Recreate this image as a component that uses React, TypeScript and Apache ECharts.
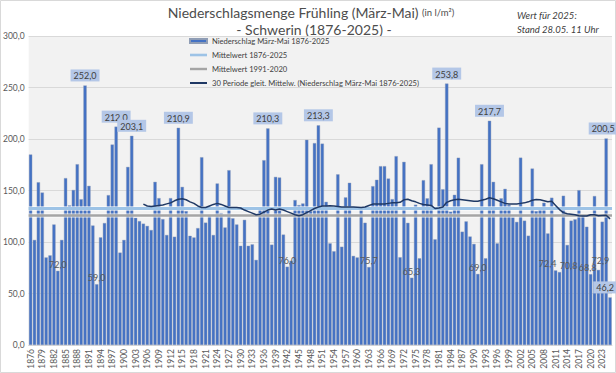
import React, { useEffect, useRef } from "react";
import * as echarts from "echarts";

// ---- data ----
const firstYear = 1876;
const years: string[] = Array.from({ length: 150 }, (_, i) => String(firstYear + i));

const precip: number[] = [
  185, 102, 158, 148,
  85, 87, 117, 72.0, 102, 162, 135.5, 150.5, 175.5, 141.5,
  252.0, 154.5, 116, 59.0, 104.5, 118.4, 145.5, 194.6, 212.0, 89.7,
  102, 172.9, 203.1, 123.5, 120.3, 117.8, 115.6, 111.6, 158.4, 142.6,
  122.2, 106.8, 142.6, 105.1, 210.9, 153.5, 130, 106, 104.4, 113.5,
  182.3, 118.8, 126, 106.8, 156.8, 128, 114.1, 169.7, 123, 117,
  96.3, 121.5, 96.3, 97.7, 82.6, 131.6, 179.4, 210.3, 97.4, 163.2,
  162.6, 107.2, 76.0, 81.8, 140.7, 135.8, 137.4, 199.2, 130, 196,
  213.3, 195.5, 139, 98.7, 91, 165.7, 95.4, 143.3, 157.5, 86.5,
  85, 131, 118.7, 75.7, 154.2, 160.4, 173.6, 173.6, 161.6, 141.6,
  183.3, 85.2, 177.8, 118.6, 65.3, 136.2, 84.2, 160, 142.4, 175.5,
  102.6, 211, 151.2, 253.8, 129.4, 145.8, 181.8, 110, 120, 105.3,
  98.1, 69.0, 175.5, 84.2, 217.7, 158.4, 98.7, 142.4, 151.6, 136,
  124, 119.5, 181.9, 120.7, 106.1, 171.3, 130, 133, 138.1, 108.3,
  143, 72.4, 70.8, 144.9, 97.1, 120.7, 122, 150.3, 126, 114.8,
  68.8, 144.6, 72.9, 119.7, 200.5, 46.2,
];

// 30-year moving average (1905-2025)
const maStartYear = 1905;
const movingAvg: number[] = [
  136.8, 135, 134.5, 135, 135.5,
  136, 137, 138, 140, 141.5, 142, 141, 139, 137.5, 135,
  133.5, 133.5, 135, 136.5, 137.5, 136.5, 135, 133.5, 133.5, 133.5,
  133, 131, 129.5, 128, 126.5, 127, 129, 131, 132, 131,
  132, 131, 129.5, 128, 126.5, 125.5, 126.5, 128.5, 130.5, 132.5,
  134, 135, 135, 135.2, 135, 134.5, 134, 134, 134, 134,
  133.8, 133.6, 134, 135.5, 136.8, 137, 137, 137, 137.5, 138,
  138, 138.5, 141, 141.5, 140, 139, 137.5, 136.5, 136, 135.5,
  132.5, 133, 134, 138.5, 140, 141, 141.5, 141, 140.5, 140,
  139.5, 139.5, 140.5, 141.5, 143, 142, 140.5, 139, 137.5, 137,
  136.8, 137, 137.5, 138, 139, 140.5, 141.3, 141, 140, 139,
  139.5, 135.5, 131.5, 128.5, 127.5, 127, 126.5, 125.5, 125.2, 125.2,
  126.5, 126.5, 125.5, 125.8, 126, 122.5,
];

const mean1876_2025 = 132.5;
const mean1991_2020 = 126;

const highLabelYears = [1890, 1898, 1902, 1914, 1937, 1950, 1983, 1994, 2024, 2025];
const lowLabelYears = [1883, 1893, 1942, 1963, 1974, 1991, 2011, 2012, 2020, 2022];

const nameBar = "Niederschlag März-Mai 1876-2025";
const nameMean1 = "Mittelwert 1876-2025";
const nameMean2 = "Mittelwert 1991-2020";
const nameMA = "30 Periode gleit. Mittelw. (Niederschlag März-Mai 1876-2025)";

// ---- styles ----
const FONT = "Lato, 'Liberation Sans', sans-serif";
const labelOffsets: Record<number, number[]> = {
  2011: [-8, 0],
  2012: [9, 0],
  2020: [-3, 0],
  2022: [2, -3],
  2024: [-3, 0],
  2025: [-5, 0],
};
const fmt = (v: number) => v.toFixed(1).replace(".", ",");

export default function App() {
  const ref = useRef<HTMLDivElement>(null);

  useEffect(() => {
    document.body.style.margin = "0";
    if (!ref.current) return;
    const chart = echarts.init(ref.current, undefined, { renderer: "svg" });

    const barData = precip.map((v, i) => {
      const y = firstYear + i;
      if (highLabelYears.includes(y)) {
        return {
          value: v,
          label: {
            show: true,
            position: "top",
            distance: 4,
            backgroundColor: "#b4c7e7",
            padding: [2, 3, 1, 3],
            color: "#404040",
            fontSize: 9,
            fontFamily: FONT,
            formatter: (p: any) => fmt(p.value),
            offset: labelOffsets[y] || [0, 0],
          },
        };
      }
      if (lowLabelYears.includes(y)) {
        return {
          value: v,
          label: {
            show: true,
            position: "top",
            distance: 2,
            color: "#595959",
            fontSize: 9,
            fontFamily: FONT,
            formatter: (p: any) => fmt(p.value),
            offset: labelOffsets[y] || [0, 0],
          },
        };
      }
      return v;
    });

    const maData = years.map((yy) => {
      const idx = Number(yy) - maStartYear;
      return idx >= 0 && idx < movingAvg.length ? movingAvg[idx] : null;
    });

    const option: any = {
      animation: false,
      backgroundColor: "#ffffff",
      textStyle: { fontFamily: FONT },
      grid: {
        left: 25,
        right: 4,
        top: 36,
        bottom: 28,
        show: true,
        backgroundColor: "#f2f2f2",
        borderWidth: 0,
      },
      legend: {
        orient: "vertical",
        left: 189,
        top: 37,
        padding: 0,
        itemGap: 6,
        itemWidth: 17,
        itemHeight: 7,
        selectedMode: false,
        textStyle: { fontSize: 7.6, color: "#404040", fontFamily: FONT, lineHeight: 7 },
        data: [
          { name: nameBar, icon: "path://M0,0H17V4H0Z" },
          { name: nameMean1, icon: "path://M0,0H17V2.6H0Z" },
          { name: nameMean2, icon: "path://M0,0H17V2.4H0Z" },
          { name: nameMA, icon: "path://M0,0H17V2H0Z" },
        ],
      },
      xAxis: {
        type: "category",
        data: years,
        axisTick: { show: false },
        axisLine: { lineStyle: { color: "#d9d9d9" } },
        axisLabel: {
          interval: 2,
          rotate: 90,
          fontSize: 8.5,
          color: "#595959",
          margin: 4,
          fontFamily: FONT,
        },
      },
      yAxis: {
        type: "value",
        min: 0,
        max: 300,
        interval: 50,
        axisLine: { show: false },
        axisTick: { show: false },
        axisLabel: {
          fontSize: 8.5,
          color: "#595959",
          margin: 4,
          fontFamily: FONT,
          formatter: (v: number) => fmt(v),
        },
        splitLine: { lineStyle: { color: "#d9d9d9", width: 1 } },
      },
      series: [
        {
          name: nameBar,
          type: "bar",
          data: barData,
          barCategoryGap: "16%",
          itemStyle: { color: "#4472c4", borderColor: "#8f9db5", borderWidth: 0.4 },
          z: 2,
          markLine: {
            silent: true,
            symbol: "none",
            label: { show: false },
            z: 3,
            data: [
              { yAxis: mean1876_2025, lineStyle: { color: "#ffffff", width: 5, type: "solid", opacity: 0.55 } },
              { yAxis: mean1876_2025, lineStyle: { color: "#9dc3e6", width: 3, type: "solid" } },
              { yAxis: mean1991_2020, lineStyle: { color: "#ffffff", width: 4.5, type: "solid", opacity: 0.55 } },
              { yAxis: mean1991_2020, lineStyle: { color: "#a5a5a5", width: 2.6, type: "solid" } },
            ],
          },
        },
        {
          name: nameMean1,
          type: "line",
          data: [],
          symbol: "none",
          itemStyle: { color: "#9dc3e6" },
          lineStyle: { color: "#9dc3e6", width: 2.5 },
        },
        {
          name: nameMean2,
          type: "line",
          data: [],
          symbol: "none",
          itemStyle: { color: "#a5a5a5" },
          lineStyle: { color: "#a5a5a5", width: 2.5 },
        },
        {
          name: nameMA,
          type: "line",
          data: maData,
          symbol: "none",
          z: 5,
          itemStyle: { color: "#1f3864" },
          lineStyle: { color: "#1f3864", width: 1.5 },
        },
      ],
      graphic: [
        {
          type: "text",
          x: 311,
          y: 12,
          style: {
            text: "{a|Niederschlagsmenge Frühling (März-Mai)} {b|(in l/m²)}",
            align: "center",
            verticalAlign: "middle",
            rich: {
              a: { fontSize: 14, fill: "#4d4d4d", fontFamily: FONT },
              b: { fontSize: 9.5, fill: "#4d4d4d", fontFamily: FONT },
            },
          },
        },
        {
          type: "text",
          x: 314,
          y: 29,
          style: {
            text: "- Schwerin (1876-2025) -",
            align: "center",
            verticalAlign: "middle",
            fontSize: 14,
            fill: "#4d4d4d",
            fontFamily: FONT,
          },
        },
        {
          type: "text",
          x: 517,
          y: 15,
          style: {
            text: "Wert für 2025:",
            verticalAlign: "middle",
            fontSize: 9.5,
            fontStyle: "italic",
            fill: "#404040",
            fontFamily: FONT,
          },
        },
        {
          type: "text",
          x: 517,
          y: 29,
          style: {
            text: "Stand 28.05. 11 Uhr",
            verticalAlign: "middle",
            fontSize: 9.5,
            fontStyle: "italic",
            fill: "#404040",
            fontFamily: FONT,
          },
        },
        {
          type: "rect",
          shape: { x: 0.5, y: 0.5, width: 615, height: 372 },
          style: { fill: "none", stroke: "#d9d9d9", lineWidth: 1 },
          silent: true,
        },
      ],
    };

    chart.setOption(option);
    return () => chart.dispose();
  }, []);

  return <div ref={ref} style={{ width: 616, height: 373 }} />;
}
